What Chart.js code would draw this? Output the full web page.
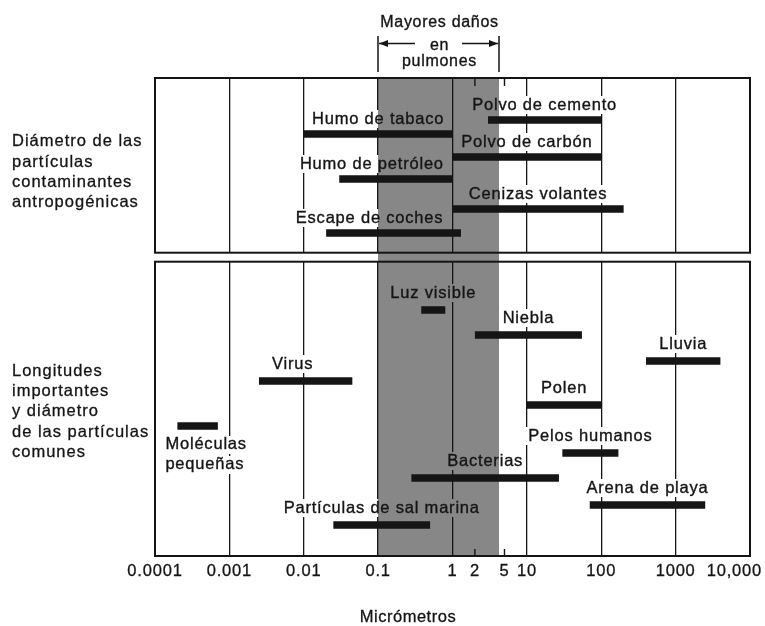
<!DOCTYPE html>
<html lang="es">
<head>
<meta charset="utf-8">
<title>Tamaño de las partículas</title>
<script src="https://cdn.jsdelivr.net/npm/chart.js@4.4.1/dist/chart.umd.min.js"></script>
<style>
  html, body { margin: 0; padding: 0; background: #fff; }
  #grafico { display: block; }
</style>
</head>
<body>
<canvas id="grafico" width="765" height="626"></canvas>
<script>
// Panel superior: partículas contaminantes antropogénicas (micrómetros)
const contaminantes = ['Polvo de cemento', 'Humo de tabaco', 'Polvo de carbón', 'Humo de petróleo', 'Cenizas volantes', 'Escape de coches'];
const contaminantesMin = [3, 0.01, 1, 0.03, 1, 0.02];
const contaminantesMax = [100, 1, 100, 1, 200, 1.3];
const contaminantesFila = [4.2, 5.6, 7.9, 10.1, 13.1, 15.5];

// Panel inferior: longitudes y partículas comunes (micrómetros)
const comunes = ['Luz visible', 'Niebla', 'Lluvia', 'Virus', 'Polen', 'Moléculas pequeñas', 'Pelos humanos', 'Bacterias', 'Arena de playa', 'Partículas de sal marina'];
const comunesMin = [0.38, 2, 400, 0.0025, 10, 0.0002, 30, 0.28, 70, 0.025];
const comunesMax = [0.8, 55, 4000, 0.045, 100, 0.0007, 170, 27, 2500, 0.5];
const comunesFila = [23.2, 25.7, 28.3, 30.3, 32.7, 34.8, 37.5, 40.0, 42.7, 44.7];

const marcas = [0.0001, 0.001, 0.01, 0.1, 1, 2, 5, 10, 100, 1000, 10000];
const marcasTexto = ['0.0001', '0.001', '0.01', '0.1', '1', '2', '5', '10', '100', '1000', '10,000'];
const decadas = [0.001, 0.01, 0.1, 1, 10, 100, 1000];
const zonaPulmones = [0.1, 4.2];

// layout
const panelSuperior = [0, 17.47];
const panelInferior = [18.37, 47.8];
const GRIS = '#878787';
const NEGRO = '#151515';
const FUENTE = '"Liberation Sans", Arial, sans-serif';
const ajustes = {
  'Humo de petróleo': { dx: -24 },
  'Escape de coches': { dx: -24 },
  'Virus': { dx: -13 },
  'Moléculas pequeñas': { dx: -12, debajo: true }
};

function segmentos(min, max, fila) {
  const pts = [];
  min.forEach((v, i) => {
    pts.push({ x: v, y: fila[i] }, { x: max[i], y: fila[i] }, { x: max[i], y: null });
  });
  return pts;
}

const etiquetas = [
  ...contaminantes.map((t, i) => ({ t, min: contaminantesMin[i], max: contaminantesMax[i], fila: contaminantesFila[i], dy: -15 })),
  ...comunes.map((t, i) => ({ t, min: comunesMin[i], max: comunesMax[i], fila: comunesFila[i], dy: -17 }))
];

// texto con un trazo fino para que se vea algo más grueso, como el impreso
function texto(ctx, t, px, py) {
  ctx.fillText(t, px, py);
  ctx.strokeText(t, px, py);
}

const dibujo = {
  id: 'dibujo',
  beforeDraw(chart) {
    const { ctx, chartArea: a, scales: { x } } = chart;
    const s0 = Math.round(x.getPixelForValue(zonaPulmones[0]));
    const s1 = Math.round(x.getPixelForValue(zonaPulmones[1]));
    ctx.save();
    ctx.fillStyle = '#fff';
    ctx.fillRect(0, 0, chart.width, chart.height);
    ctx.fillStyle = GRIS;
    ctx.fillRect(s0, a.top, s1 - s0, a.bottom - a.top);
    ctx.restore();
  },
  beforeDatasetsDraw(chart) {
    const { ctx, chartArea: a, scales: { x, y } } = chart;
    const s0 = Math.round(x.getPixelForValue(zonaPulmones[0]));
    const s1 = Math.round(x.getPixelForValue(zonaPulmones[1]));
    const caja = (l, t, w, h) => {
      l = Math.round(l); t = Math.round(t);
      w = Math.round(w); h = Math.round(h);
      ctx.fillStyle = '#fff';
      ctx.fillRect(l, t, w, h);
      const i0 = Math.max(l, s0), i1 = Math.min(l + w, s1);
      if (i1 > i0) {
        ctx.fillStyle = GRIS;
        ctx.fillRect(i0, t, i1 - i0, h);
      }
    };
    ctx.save();

    // hueco entre los dos paneles
    const g0 = y.getPixelForValue(panelSuperior[1]);
    const g1 = y.getPixelForValue(panelInferior[0]);
    caja(a.left - 3, g0, a.width + 6, g1 - g0);

    ctx.strokeStyle = NEGRO;
    ctx.lineWidth = 2;
    [panelSuperior, panelInferior].forEach(p => {
      const t = y.getPixelForValue(p[0]);
      const b = y.getPixelForValue(p[1]);
      ctx.strokeRect(a.left, t, a.width, b - t);
    });

    // marcas cortas en 2 y 5
    ctx.lineWidth = 1.4;
    [2, 5].forEach(v => {
      const px = x.getPixelForValue(v);
      ctx.beginPath();
      ctx.moveTo(px, a.top);
      ctx.lineTo(px, a.top + 8);
      ctx.moveTo(px, a.bottom);
      ctx.lineTo(px, a.bottom - 7);
      ctx.stroke();
    });

    // nombres de las barras: primero el fondo, luego el texto
    ctx.font = '16.5px ' + FUENTE;
    ctx.letterSpacing = '0.8px';
    ctx.textBaseline = 'middle';
    const textos = [];
    etiquetas.forEach(e => {
      const aj = ajustes[e.t] || {};
      const x0 = x.getPixelForValue(e.min);
      const x1 = x.getPixelForValue(e.max);
      const py = y.getPixelForValue(e.fila);
      if (aj.debajo) {
        e.t.split(' ').forEach((l, k) => {
          const w = ctx.measureText(l).width;
          textos.push({ l, lx: x0 + aj.dx, ly: py + 18.5 + k * 20, w });
        });
      } else {
        const w = ctx.measureText(e.t).width;
        const cx = (x0 + x1) / 2 + (aj.dx || 0);
        textos.push({ l: e.t, lx: cx - w / 2, ly: py + e.dy, w });
      }
    });
    textos.forEach(o => caja(o.lx - 3, o.ly - 9, o.w + 5, 18));
    ctx.fillStyle = NEGRO;
    ctx.strokeStyle = NEGRO;
    ctx.lineWidth = 0.35;
    ctx.textAlign = 'left';
    textos.forEach(o => texto(ctx, o.l, o.lx, o.ly));
    ctx.restore();
  },
  afterDraw(chart) {
    const { ctx, chartArea: a, scales: { x, y } } = chart;
    const s0 = Math.round(x.getPixelForValue(zonaPulmones[0]));
    const s1 = Math.round(x.getPixelForValue(zonaPulmones[1]));
    ctx.save();
    ctx.fillStyle = NEGRO;
    ctx.strokeStyle = NEGRO;

    // encabezado "Mayores daños en pulmones"
    const cx = (s0 + s1) / 2 + 1;
    ctx.font = '16px ' + FUENTE;
    ctx.letterSpacing = '0.7px';
    ctx.textAlign = 'center';
    ctx.textBaseline = 'alphabetic';
    ctx.lineWidth = 0.35;
    texto(ctx, 'Mayores daños', cx, 27);
    texto(ctx, 'en', cx, 49.5);
    texto(ctx, 'pulmones', cx, 66);
    ctx.lineWidth = 1.5;
    ctx.beginPath();
    ctx.moveTo(s0, 36); ctx.lineTo(s0, 72);
    ctx.moveTo(s1, 36); ctx.lineTo(s1, 72);
    ctx.moveTo(s0 + 1, 43.5); ctx.lineTo(s0 + 37, 43.5);
    ctx.moveTo(s1 - 1, 43.5); ctx.lineTo(s1 - 37, 43.5);
    ctx.stroke();
    ctx.beginPath();
    ctx.moveTo(s0 + 1, 43.5); ctx.lineTo(s0 + 10, 40); ctx.lineTo(s0 + 10, 47); ctx.closePath();
    ctx.moveTo(s1 - 1, 43.5); ctx.lineTo(s1 - 10, 40); ctx.lineTo(s1 - 10, 47); ctx.closePath();
    ctx.fill();

    // rótulos de los paneles
    ctx.font = '16.5px ' + FUENTE;
    ctx.letterSpacing = '1px';
    ctx.lineWidth = 0.3;
    ctx.textAlign = 'left';
    ctx.textBaseline = 'middle';
    const bloque = (lineas, centro) => {
      const y0 = centro - (lineas.length - 1) * 20.4 / 2;
      lineas.forEach((l, k) => texto(ctx, l, 12, y0 + k * 20.4));
    };
    const cSup = (y.getPixelForValue(panelSuperior[0]) + y.getPixelForValue(panelSuperior[1])) / 2;
    const cInf = (y.getPixelForValue(panelInferior[0]) + y.getPixelForValue(panelInferior[1])) / 2;
    bloque(['Diámetro de las', 'partículas', 'contaminantes', 'antropogénicas'], cSup + 7);
    bloque(['Longitudes', 'importantes', 'y diámetro', 'de las partículas', 'comunes'], cInf + 3);

    // etiquetas del eje
    ctx.letterSpacing = '0.8px';
    ctx.textAlign = 'center';
    marcas.forEach((v, i) => {
      const w = ctx.measureText(marcasTexto[i]).width;
      let px = x.getPixelForValue(v);
      px = Math.min(Math.max(px, w / 2 + 2), chart.width - w / 2 - 3);
      texto(ctx, marcasTexto[i], px, a.bottom + 15);
    });
    ctx.letterSpacing = '0.5px';
    texto(ctx, 'Micrómetros', 408, 617);
    ctx.restore();
  }
};

new Chart(document.getElementById('grafico'), {
  type: 'line',
  data: {
    datasets: [
      {
        label: 'Contaminantes antropogénicas',
        data: segmentos(contaminantesMin, contaminantesMax, contaminantesFila),
        borderColor: NEGRO,
        borderWidth: 7.5,
        borderCapStyle: 'butt',
        pointRadius: 0,
        spanGaps: false,
        tension: 0
      },
      {
        label: 'Partículas comunes',
        data: segmentos(comunesMin, comunesMax, comunesFila),
        borderColor: NEGRO,
        borderWidth: 7.5,
        borderCapStyle: 'butt',
        pointRadius: 0,
        spanGaps: false,
        tension: 0
      }
    ]
  },
  options: {
    responsive: false,
    animation: false,
    devicePixelRatio: 1,
    layout: { padding: { left: 155, right: 15, top: 78, bottom: 70 } },
    plugins: {
      legend: { display: false },
      tooltip: { enabled: false }
    },
    scales: {
      x: {
        type: 'logarithmic',
        min: 0.0001,
        max: 10000,
        afterBuildTicks: s => { s.ticks = decadas.map(v => ({ value: v })); },
        ticks: { display: false },
        border: { display: false },
        grid: { color: NEGRO, lineWidth: 1.3, drawTicks: false }
      },
      y: {
        type: 'linear',
        reverse: true,
        min: 0,
        max: 47.8,
        display: false
      }
    }
  },
  plugins: [dibujo]
});
</script>
</body>
</html>
